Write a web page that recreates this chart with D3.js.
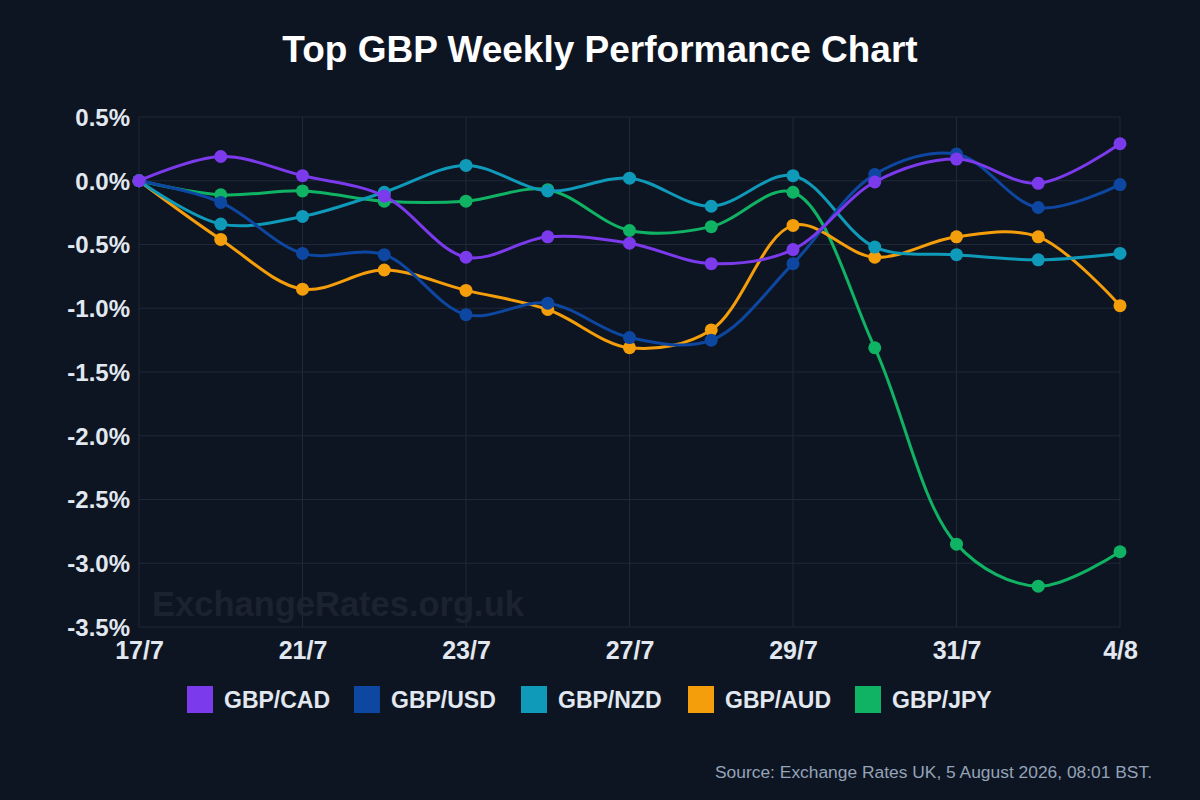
<!DOCTYPE html>
<meta charset="utf-8">
<head>
<script src="https://cdn.jsdelivr.net/npm/d3@7"></script>
<style>
body { margin: 0; background: #0e1522; }
text { font-family: "Liberation Sans", Arial, sans-serif; }
</style>
</head>
<body>
<script>

// data
var dates = ["17/7", "20/7", "21/7", "22/7", "23/7", "24/7", "27/7", "28/7", "29/7", "30/7", "31/7", "3/8", "4/8"];
var tickDates = ["17/7", "21/7", "23/7", "27/7", "29/7", "31/7", "4/8"];
var yTicks = [0.5, 0, -0.5, -1, -1.5, -2, -2.5, -3, -3.5];

var names = ["GBP/CAD", "GBP/USD", "GBP/NZD", "GBP/AUD", "GBP/JPY"];
var colors = ["#7c3aed", "#0d47a1", "#0e9ab8", "#f59e0b", "#10b364"];

var cad = [0, 0.19, 0.04, -0.12, -0.60, -0.44, -0.49, -0.65, -0.54, -0.01, 0.17, -0.02, 0.29];
var usd = [0, -0.17, -0.57, -0.58, -1.05, -0.96, -1.23, -1.25, -0.65, 0.05, 0.21, -0.21, -0.03];
var nzd = [0, -0.34, -0.28, -0.09, 0.12, -0.08, 0.02, -0.20, 0.04, -0.52, -0.58, -0.62, -0.57];
var aud = [0, -0.46, -0.85, -0.70, -0.86, -1.01, -1.31, -1.17, -0.35, -0.60, -0.44, -0.44, -0.98];
var jpy = [0, -0.11, -0.08, -0.16, -0.16, -0.07, -0.39, -0.36, -0.09, -1.31, -2.85, -3.18, -2.91];
var series = [cad, usd, nzd, aud, jpy];

var width = 1200, height = 800;
var margin = {top: 117, right: 80, bottom: 173, left: 139};

var svg = d3.select("body").append("svg")
    .attr("width", width)
    .attr("height", height);

svg.append("rect").attr("width", width).attr("height", height).attr("fill", "#0e1522");

var x = d3.scalePoint().domain(dates).range([margin.left, width - margin.right]);
var y = d3.scaleLinear().domain([-3.5, 0.5]).range([height - margin.bottom, margin.top]);

// title
svg.append("text")
    .attr("x", 600).attr("y", 62)
    .attr("text-anchor", "middle")
    .attr("fill", "#ffffff")
    .style("font-size", "37px").style("font-weight", "bold")
    .text("Top GBP Weekly Performance Chart");

// grid
svg.append("g").selectAll("line").data(yTicks).enter().append("line")
    .attr("x1", margin.left).attr("x2", width - margin.right)
    .attr("y1", function(d) { return y(d); }).attr("y2", function(d) { return y(d); })
    .attr("stroke", "#1f2937").attr("stroke-width", 1);

svg.append("g").selectAll("line").data(tickDates).enter().append("line")
    .attr("x1", function(d) { return x(d); }).attr("x2", function(d) { return x(d); })
    .attr("y1", margin.top).attr("y2", height - margin.bottom)
    .attr("stroke", "#1f2937").attr("stroke-width", 1);

// watermark
svg.append("text")
    .attr("x", 152).attr("y", 616)
    .attr("fill", "#1b2230")
    .style("font-size", "34.5px").style("font-weight", "bold")
    .text("ExchangeRates.org.uk");

// axes
var yAxis = d3.axisLeft(y).tickValues(yTicks).tickSize(0).tickPadding(9)
    .tickFormat(function(d) { return d.toFixed(1) + "%"; });
var gy = svg.append("g").attr("transform", "translate(" + margin.left + ",0)").call(yAxis);

var xAxis = d3.axisBottom(x).tickValues(tickDates).tickSize(0).tickPadding(11);
var gx = svg.append("g").attr("transform", "translate(0," + (height - margin.bottom) + ")").call(xAxis);

[gx, gy].forEach(function(g) {
  g.select(".domain").remove();
  g.selectAll("text")
    .attr("fill", "#e2e8f0")
    .style("font-weight", "bold")
    .style("font-family", "'Liberation Sans', Arial, sans-serif");
});
gy.selectAll("text").attr("dy", "0.35em").style("font-size", "24px");
gx.selectAll("text").attr("dy", "0.85em").style("font-size", "25px");

// lines (first series drawn on top)
var line = d3.line()
    .x(function(d, i) { return x(dates[i]); })
    .y(function(d) { return y(d); })
    .curve(d3.curveCatmullRom.alpha(0.5));

var order = [4, 3, 2, 1, 0];
order.forEach(function(k) {
  var g = svg.append("g");
  g.append("path")
    .datum(series[k])
    .attr("d", line)
    .attr("fill", "none")
    .attr("stroke", colors[k])
    .attr("stroke-width", 3);
  g.selectAll("circle").data(series[k]).enter().append("circle")
    .attr("cx", function(d, i) { return x(dates[i]); })
    .attr("cy", function(d) { return y(d); })
    .attr("r", 6.5)
    .attr("fill", colors[k]);
});

// legend
var legend = svg.append("g");
var item = legend.selectAll("g").data(names).enter().append("g")
    .attr("transform", function(d, i) { return "translate(" + (187 + i * 167) + ",686)"; });
item.append("rect")
    .attr("width", 26).attr("height", 27)
    .attr("fill", function(d, i) { return colors[i]; });
item.append("text")
    .attr("x", 37).attr("y", 22)
    .attr("fill", "#e2e8f0")
    .style("font-size", "23px").style("font-weight", "bold")
    .text(function(d) { return d; });

// source
svg.append("text")
    .attr("x", 1152).attr("y", 778)
    .attr("text-anchor", "end")
    .attr("fill", "#94a3b8")
    .style("font-size", "17.4px")
    .text("Source: Exchange Rates UK, 5 August 2026, 08:01 BST.");

</script>
</body>
